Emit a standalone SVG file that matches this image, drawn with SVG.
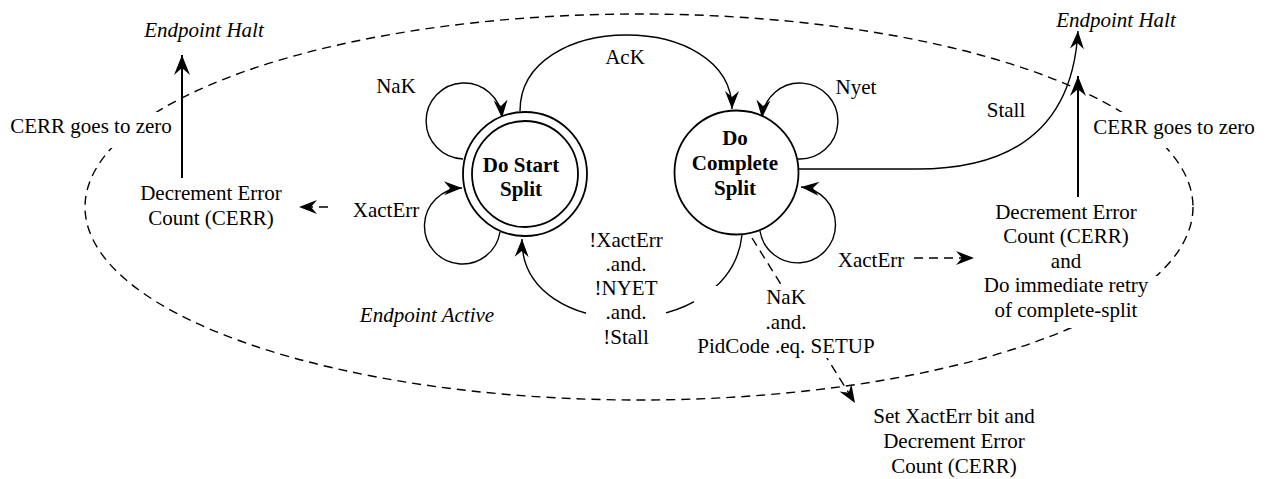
<svg xmlns="http://www.w3.org/2000/svg" width="1272" height="479" viewBox="0 0 1272 479" font-family="'Liberation Serif', serif" font-size="21">
<style>
text{fill:#000;text-anchor:middle}
.it{font-style:italic}
.b{font-weight:bold}
.ln{fill:none;stroke:#000;stroke-width:1.4}
.thick{fill:none;stroke:#000;stroke-width:2}
.dash{fill:none;stroke:#000;stroke-width:1.4;stroke-dasharray:9 6}
.node{fill:#fff;stroke:#000;stroke-width:1.8}
.bg{fill:#fff;stroke:none}
</style>
<defs>
<marker id="ah" viewBox="-21 -9 22 18" refX="0" refY="0" markerWidth="22" markerHeight="18" markerUnits="userSpaceOnUse" orient="auto">
<path d="M0,0 L-20,-8 L-13,0 L-20,8 Z" fill="#000"/>
</marker>
<marker id="ahs" viewBox="-19 -8 20 16" refX="0" refY="0" markerWidth="20" markerHeight="16" markerUnits="userSpaceOnUse" orient="auto">
<path d="M0,0 L-18,-7 L-12,0 L-18,7 Z" fill="#000"/>
</marker>
</defs>

<g id="region">
<ellipse cx="639" cy="207" rx="554" ry="193" class="dash"/>
<rect class="bg" x="6" y="112" width="172" height="36"/>
<rect class="bg" x="1088" y="112" width="172" height="36"/>
<rect class="bg" x="975" y="276" width="190" height="52"/>
<text class="it" x="427" y="322">Endpoint Active</text>
</g>

<g id="connectors">
<path class="ln" d="M520,111 C520,10 732,10 732,109" marker-end="url(#ahs)"/>
<path class="ln" d="M463,159 A38,38 0 1 1 502,118" marker-end="url(#ahs)"/>
<path class="ln" d="M500,232 A38,38 0 1 1 462,188" marker-end="url(#ahs)"/>
<path class="ln" d="M798,159 A38,38 0 1 0 762,118" marker-end="url(#ahs)"/>
<path class="ln" d="M760,231 A38,38 0 1 0 801,187" marker-end="url(#ahs)"/>
<path class="ln" d="M742,235 C730,345 520,345 522,239" marker-end="url(#ahs)"/>
<path class="ln" d="M798,169 L917,169 C1005,169 1072,135 1078,31" marker-end="url(#ahs)"/>
<path class="thick" d="M182,178 L182,55" marker-end="url(#ah)"/>
<path class="thick" d="M1078,197 L1078,76" marker-end="url(#ah)"/>
<path class="dash" d="M328,207 L299,207" marker-end="url(#ahs)"/>
<path class="dash" d="M914,258 L974,258" marker-end="url(#ahs)"/>
<path class="dash" d="M752,238 L855,403" marker-end="url(#ahs)"/>
</g>

<g id="labels">
<rect class="bg" x="586" y="229" width="80" height="121"/>
<text x="626" y="247">!XactErr</text>
<text x="626" y="271">.and.</text>
<text x="626" y="295">!NYET</text>
<text x="626" y="319">.and.</text>
<text x="626" y="344">!Stall</text>
<rect class="bg" x="694" y="286" width="184" height="72"/>
<text x="786" y="304">NaK</text>
<text x="786" y="329">.and.</text>
<text x="786" y="353">PidCode .eq. SETUP</text>
<text x="625" y="64">AcK</text>
<text x="396" y="93">NaK</text>
<text x="386" y="217">XactErr</text>
<text x="856" y="94">Nyet</text>
<text x="871" y="267">XactErr</text>
<text x="1006" y="117">Stall</text>
</g>

<g id="node-halt-left">
<text class="it" x="204" y="37">Endpoint Halt</text>
</g>
<g id="node-cerr-left">
<text x="91" y="133">CERR goes to zero</text>
</g>
<g id="node-dec-left">
<text x="211" y="200">Decrement Error</text>
<text x="211" y="225">Count (CERR)</text>
</g>

<g id="node-start">
<circle cx="525" cy="174" r="62" class="node"/>
<circle cx="525" cy="174" r="53" class="node"/>
<text class="b" x="521" y="172">Do Start</text>
<text class="b" x="521" y="196">Split</text>
</g>

<g id="node-complete">
<circle cx="736.5" cy="172.5" r="62" class="node"/>
<text class="b" x="735" y="145">Do</text>
<text class="b" x="735" y="170">Complete</text>
<text class="b" x="735" y="195">Split</text>
</g>

<g id="node-halt-right">
<text class="it" x="1116" y="27">Endpoint Halt</text>
</g>
<g id="node-cerr-right">
<text x="1174" y="134">CERR goes to zero</text>
</g>
<g id="node-dec-right">
<text x="1066" y="219">Decrement Error</text>
<text x="1066" y="243">Count (CERR)</text>
<text x="1066" y="268">and</text>
<text x="1066" y="292">Do immediate retry</text>
<text x="1066" y="317">of complete-split</text>
</g>
<g id="node-setxact">
<text x="954" y="423">Set XactErr bit and</text>
<text x="954" y="448">Decrement Error</text>
<text x="954" y="473">Count (CERR)</text>
</g>
</svg>
